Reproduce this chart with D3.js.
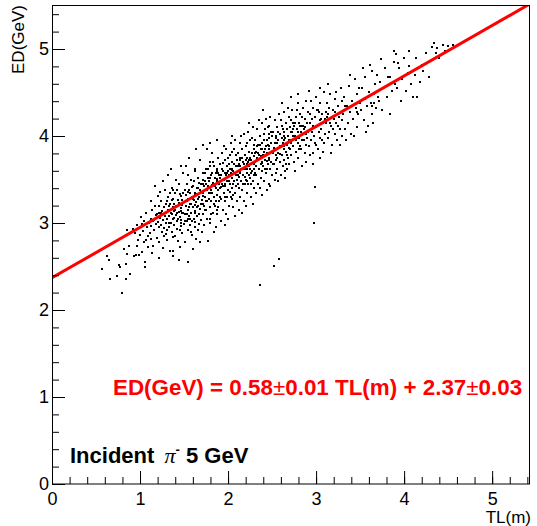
<!DOCTYPE html>
<html><head><meta charset="utf-8">
<script src="https://cdn.jsdelivr.net/npm/d3@7"></script>
<style>
body{margin:0;background:#fff;}
svg{display:block;font-family:"Liberation Sans",Arial,sans-serif;}
</style></head>
<body>
<svg id="c" width="537" height="526"></svg>
<script>
// axis tick values
const xMajorTicks = [0,1,2,3,4,5];
const yMajorTicks = [0,1,2,3,4,5];
const xDomain = [0, 5.43];
const yDomain = [0, 5.5];
// linear fit parameters
const fitSlope = 0.58;
const fitIntercept = 2.37;
// events: [TL(m), ED(GeV)]
const events = [
[0.57,2.47],[0.66,2.36],[0.65,2.57],[0.62,2.62],
[0.74,2.39],[0.76,2.52],[0.77,2.49],[0.80,2.20],[0.84,2.36],[0.84,2.53],[0.85,2.64],[0.85,2.92],[0.89,2.41],[0.88,2.74],[0.82,2.70],
[0.93,2.62],[0.95,2.63],[0.97,2.74],[0.99,2.63],[1.02,2.67],[1.06,2.50],[1.06,2.55],[1.07,2.80],[0.92,2.93],[0.96,2.98],[1.00,2.86],[1.03,2.91],[1.05,3.02],[1.08,2.95],[1.09,2.72],[0.98,2.81],[1.01,3.07],[1.04,2.78],[1.10,3.00],[0.94,2.88],[1.07,3.12],[1.09,2.85],[1.02,2.99],
[1.11,2.88],[1.12,3.05],[1.13,2.96],[1.14,3.15],[1.15,2.74],[1.15,3.02],[1.16,2.92],[1.17,3.20],[1.18,2.99],[1.18,3.09],[1.19,2.83],[1.20,3.31],[1.20,3.01],[1.21,2.95],[1.22,3.12],[1.22,2.78],[1.23,3.06],[1.24,2.98],[1.24,3.25],[1.25,2.90],[1.25,3.14],[1.26,3.03],[1.26,2.71],[1.27,3.18],[1.27,2.94],[1.28,3.08],[1.28,3.38],[1.29,2.87],[1.29,3.00],[1.30,3.22],[1.12,3.25],[1.14,2.65],[1.17,3.42],[1.21,2.60],[1.23,3.36],[1.26,3.48],[1.19,3.10],[1.16,3.04],[1.29,3.12],[1.13,2.82],
[1.31,3.05],[1.31,2.80],[1.32,3.15],[1.32,3.30],[1.33,2.95],[1.33,3.08],[1.34,3.22],[1.34,2.68],[1.35,3.12],[1.35,3.00],[1.36,3.40],[1.36,2.90],[1.37,3.18],[1.37,2.68],[1.38,3.05],[1.38,3.28],[1.39,2.98],[1.39,3.14],[1.40,3.35],[1.40,2.85],[1.41,3.09],[1.41,3.20],[1.42,2.93],[1.42,3.02],[1.43,3.26],[1.43,2.79],[1.44,3.13],[1.44,3.45],[1.45,2.72],[1.45,3.07],[1.46,3.17],[1.46,2.96],[1.47,3.31],[1.47,3.04],[1.48,2.88],[1.48,3.21],[1.49,3.11],[1.49,3.58],[1.50,2.99],[1.50,3.24],[1.32,3.55],[1.35,3.62],[1.38,2.62],[1.41,3.50],[1.44,2.58],[1.47,3.66],[1.33,3.00],[1.36,3.10],[1.40,3.15],[1.43,3.05],[1.46,3.00],[1.49,3.35],[1.42,3.38],[1.37,2.84],[1.45,2.92],[1.34,3.35],[1.48,3.12],[1.39,3.22],[1.31,3.25],[1.44,3.23],
[1.51,3.10],[1.51,2.78],[1.52,3.32],[1.52,3.20],[1.53,3.02],[1.53,3.45],[1.54,3.15],[1.54,2.92],[1.55,3.28],[1.55,2.55],[1.56,3.38],[1.56,3.08],[1.57,3.22],[1.57,2.98],[1.58,3.50],[1.58,3.12],[1.59,3.30],[1.59,2.86],[1.60,3.18],[1.60,3.42],[1.61,3.05],[1.61,3.26],[1.62,2.95],[1.62,3.35],[1.63,3.14],[1.63,3.60],[1.64,3.24],[1.64,2.82],[1.65,3.40],[1.65,3.08],[1.66,3.20],[1.66,3.52],[1.67,2.99],[1.67,3.30],[1.68,3.16],[1.68,3.72],[1.69,3.36],[1.69,3.04],[1.70,3.26],[1.70,2.90],[1.52,3.65],[1.56,3.75],[1.60,2.70],[1.64,3.85],[1.68,2.78],[1.53,3.25],[1.57,3.35],[1.61,3.48],[1.65,3.18],[1.69,3.45],[1.54,3.05],[1.58,3.22],[1.62,3.12],[1.66,3.28],[1.55,3.55],[1.59,3.02],[1.63,3.32],[1.67,3.10],[1.58,2.90],[1.62,3.62],[1.66,2.92],[1.51,3.38],[1.60,3.28],[1.68,3.38],[1.55,3.15],
[1.71,3.35],[1.71,3.10],[1.72,3.50],[1.72,3.22],[1.73,3.42],[1.73,2.98],[1.74,3.58],[1.74,3.30],[1.75,3.15],[1.75,3.45],[1.76,3.38],[1.76,3.05],[1.77,2.79],[1.77,3.62],[1.78,3.28],[1.78,3.48],[1.79,3.18],[1.79,3.70],[1.80,3.40],[1.80,3.00],[1.81,3.55],[1.81,3.25],[1.82,3.35],[1.82,3.80],[1.83,3.12],[1.83,3.46],[1.84,3.30],[1.84,3.65],[1.85,3.20],[1.85,3.52],[1.86,3.40],[1.86,2.95],[1.87,3.60],[1.87,3.32],[1.88,3.48],[1.88,3.10],[1.89,3.75],[1.89,3.38],[1.90,3.25],[1.90,3.55],[1.72,3.90],[1.76,3.85],[1.80,3.92],[1.84,2.90],[1.88,3.95],[1.73,3.20],[1.77,3.42],[1.81,3.10],[1.85,3.42],[1.89,3.18],[1.74,3.48],[1.78,3.35],[1.82,3.58],[1.86,3.25],[1.90,3.45],[1.75,3.62],[1.79,3.52],[1.83,3.70],[1.87,3.15],[1.71,3.45],[1.76,3.25],[1.80,3.65],[1.84,3.45],[1.88,3.62],[1.79,3.05],
[1.91,3.40],[1.91,3.68],[1.92,3.28],[1.92,3.55],[1.93,3.45],[1.93,3.80],[1.94,3.15],[1.94,3.60],[1.95,3.50],[1.95,3.35],[1.96,3.72],[1.96,3.25],[1.97,3.58],[1.97,3.42],[1.98,3.85],[1.98,3.10],[1.99,3.65],[1.99,3.48],[2.00,3.38],[2.00,3.75],[2.01,3.55],[2.01,3.20],[2.02,3.62],[2.02,3.45],[2.03,3.92],[2.03,3.30],[2.04,3.70],[2.04,3.52],[2.05,3.40],[2.05,3.82],[2.06,3.60],[2.06,3.18],[2.07,3.48],[2.07,3.68],[2.08,3.35],[2.08,3.95],[2.09,3.55],[2.09,3.42],[2.10,3.72],[2.10,3.25],[1.92,3.02],[1.96,2.98],[2.00,3.05],[2.04,4.00],[2.08,3.08],[1.93,3.62],[1.97,3.30],[2.01,3.48],[2.05,3.62],[2.09,3.65],[1.94,3.42],[1.98,3.55],[2.02,3.78],[2.06,3.45],[2.10,3.50],[1.95,3.88],[1.99,3.30],[2.03,3.58],[2.07,3.85],[1.91,3.52],[2.00,3.60],[2.06,3.32],
[2.11,3.55],[2.11,3.80],[2.12,3.40],[2.12,3.68],[2.13,3.60],[2.13,3.92],[2.14,3.30],[2.14,3.75],[2.15,3.62],[2.15,3.48],[2.16,3.85],[2.16,3.38],[2.17,3.70],[2.17,3.55],[2.18,4.02],[2.18,3.25],[2.19,3.78],[2.19,3.62],[2.20,3.50],[2.20,3.88],[2.21,3.68],[2.21,3.35],[2.22,3.75],[2.22,3.58],[2.23,4.05],[2.23,3.45],[2.24,3.82],[2.24,3.65],[2.25,3.52],[2.25,3.95],[2.26,3.72],[2.26,3.30],[2.27,3.60],[2.27,3.80],[2.28,3.48],[2.28,4.10],[2.29,3.68],[2.29,3.55],[2.30,3.85],[2.30,3.40],[2.12,3.15],[2.16,3.12],[2.20,3.20],[2.24,4.15],[2.28,3.22],[2.13,3.72],[2.17,3.45],[2.21,3.62],[2.25,3.75],[2.29,3.90],[2.14,3.58],[2.18,3.68],[2.22,3.92],[2.26,3.58],[2.30,3.62],[2.15,4.00],[2.19,3.45],[2.23,3.70],[2.27,3.98],[2.11,3.65],[2.20,3.72],[2.26,3.45],[2.24,3.55],
[2.31,3.70],[2.31,3.95],[2.32,3.55],[2.32,3.82],[2.33,3.75],[2.33,4.08],[2.34,3.45],[2.34,3.90],[2.35,3.78],[2.35,3.62],[2.36,2.29],[2.36,4.00],[2.37,3.52],[2.37,3.85],[2.38,3.70],[2.38,4.15],[2.39,3.32],[2.39,3.92],[2.40,3.78],[2.40,3.65],[2.41,4.02],[2.41,3.48],[2.42,3.85],[2.42,3.72],[2.43,4.20],[2.43,3.58],[2.44,3.95],[2.44,3.80],[2.45,3.68],[2.45,4.10],[2.46,3.88],[2.46,3.45],[2.47,3.75],[2.47,3.98],[2.48,3.62],[2.48,4.22],[2.49,3.82],[2.49,3.70],[2.50,4.00],[2.50,3.55],[2.32,3.35],[2.36,3.40],[2.40,4.30],[2.44,3.38],[2.48,3.42],[2.33,3.88],[2.37,3.68],[2.41,3.82],[2.45,3.90],[2.49,4.05],[2.34,3.72],[2.38,3.85],[2.42,4.08],[2.46,3.72],[2.35,4.18],[2.39,3.60],[2.43,3.88],[2.47,4.12],[2.31,3.80],[2.44,3.62],
[2.51,3.80],[2.51,4.05],[2.52,2.51],[2.52,3.68],[2.53,3.92],[2.53,4.18],[2.54,3.58],[2.54,3.98],[2.55,3.85],[2.55,3.72],[2.56,4.10],[2.56,3.62],[2.57,3.95],[2.57,3.80],[2.58,2.59],[2.58,4.25],[2.59,3.70],[2.59,4.02],[2.60,3.88],[2.60,3.55],[2.61,4.12],[2.61,3.78],[2.62,3.92],[2.62,3.65],[2.63,4.28],[2.63,3.85],[2.64,4.05],[2.64,3.72],[2.65,3.98],[2.65,3.60],[2.66,4.15],[2.66,3.82],[2.67,3.90],[2.67,4.08],[2.68,3.75],[2.68,4.32],[2.69,3.95],[2.69,3.68],[2.70,4.10],[2.70,3.85],[2.53,3.50],[2.57,3.48],[2.61,4.38],[2.65,3.52],[2.69,4.22],[2.55,4.00],[2.59,3.88],[2.63,4.00],[2.67,3.62],[2.56,3.92],[2.60,4.18],[2.64,3.88],[2.68,4.00],
[2.71,3.95],[2.71,4.18],[2.72,3.78],[2.73,4.05],[2.73,4.30],[2.74,3.88],[2.75,4.12],[2.75,3.70],[2.76,4.00],[2.77,4.22],[2.77,3.82],[2.78,4.08],[2.79,3.92],[2.79,4.38],[2.80,3.75],[2.81,4.15],[2.81,3.98],[2.82,4.25],[2.83,3.85],[2.83,4.05],[2.84,3.65],[2.85,4.12],[2.85,4.32],[2.86,3.95],[2.87,4.20],[2.87,3.80],[2.88,4.02],[2.89,4.40],[2.89,3.90],[2.90,4.15],[2.72,4.45],[2.76,3.60],[2.80,4.48],[2.84,4.12],[2.88,3.70],[2.74,4.00],[2.78,4.30],[2.82,3.88],[2.86,4.08],[2.90,3.98],[2.78,3.98],[2.84,4.22],[2.74,4.15],
[2.91,4.05],[2.91,4.28],[2.92,3.88],[2.93,4.15],[2.94,4.40],[2.94,3.95],[2.95,4.20],[2.96,3.80],[2.97,4.10],[2.97,4.32],[2.98,3.00],[2.98,4.00],[2.99,4.22],[3.00,3.90],[3.00,4.45],[3.01,4.12],[3.02,3.85],[3.02,4.30],[3.03,4.05],[3.04,4.18],[3.05,3.75],[3.05,4.38],[3.06,4.08],[3.07,3.95],[3.07,4.25],[3.08,4.15],[3.09,4.50],[3.09,3.92],[3.10,4.20],[3.10,4.02],[2.92,4.52],[2.96,3.68],[3.00,4.10],[3.04,4.55],[3.08,3.82],[2.95,4.05],[2.99,3.92],[3.03,4.28],[3.06,4.20],[2.93,3.78],[2.99,3.41],
[3.11,4.15],[3.12,4.38],[3.13,3.98],[3.14,4.25],[3.15,4.05],[3.16,4.48],[3.17,4.12],[3.18,3.90],[3.19,4.30],[3.20,4.20],[3.21,4.02],[3.22,4.42],[3.23,4.15],[3.24,3.95],[3.25,4.35],[3.26,4.22],[3.27,4.08],[3.28,4.55],[3.29,4.18],[3.30,4.00],[3.13,4.60],[3.17,3.80],[3.21,4.28],[3.25,4.12],[3.29,4.40],[3.15,4.32],[3.19,4.08],[3.23,4.50],[3.27,3.90],[3.12,4.22],
[3.31,4.25],[3.32,4.45],[3.33,4.08],[3.35,4.35],[3.36,4.15],[3.37,4.58],[3.38,4.28],[3.40,4.02],[3.41,4.40],[3.42,4.20],[3.44,4.65],[3.45,4.32],[3.46,4.10],[3.47,4.48],[3.48,4.25],[3.50,4.38],[3.34,3.95],[3.39,4.70],[3.43,4.00],[3.49,4.55],[3.33,4.35],[3.46,4.28],
[3.51,4.30],[3.52,4.55],[3.54,4.18],[3.55,4.42],[3.56,4.68],[3.58,4.35],[3.59,4.12],[3.60,4.50],[3.62,4.38],[3.63,4.75],[3.64,4.25],[3.66,4.48],[3.67,4.60],[3.68,4.32],[3.70,4.45],[3.53,4.78],[3.57,4.05],[3.61,4.82],[3.65,4.15],[3.69,4.70],[3.64,4.34],[3.66,4.38],
[3.71,4.40],[3.73,4.62],[3.75,4.30],[3.76,4.55],[3.78,4.78],[3.80,4.45],[3.82,4.68],[3.84,4.25],[3.86,4.52],[3.88,4.85],[3.90,4.60],[3.74,4.88],[3.84,4.68],
[3.92,4.55],[3.94,4.78],[3.96,4.40],[3.98,4.65],[4.00,4.90],[4.02,4.52],[4.04,4.72],[4.06,4.98],[4.08,4.60],[4.10,4.45],[3.89,4.98],[3.91,4.94],[3.93,4.84],[4.05,4.80],
[4.12,4.70],[4.14,4.90],[4.15,4.45],[4.18,4.62],[4.20,4.82],[4.22,4.75],[4.25,4.95],[4.28,4.68],
[4.32,5.02],[4.34,5.07],[4.36,4.95],[4.37,5.01],[4.40,4.90],[4.44,5.05],[4.46,4.98],[4.50,5.03],[4.55,5.05],
[1.24,3.11],[1.27,2.85],[1.33,3.19],[1.36,3.26],[1.39,3.06],[1.42,3.12],[1.45,3.33],[1.48,3.27],[1.51,3.02],[1.54,3.36],[1.56,3.18],[1.59,3.41],[1.62,3.21],[1.64,3.33],[1.67,3.46],[1.69,3.22],[1.72,3.31],[1.74,3.15],[1.77,3.52],[1.79,3.34],[1.82,3.44],[1.84,3.22],[1.87,3.51],[1.89,3.57],[1.92,3.41],[1.94,3.69],[1.97,3.51],[1.99,3.58],[2.02,3.36],[2.04,3.61],[2.07,3.57],[2.09,3.78],[2.12,3.53],[2.14,3.66],[2.17,3.62],[2.19,3.53],[2.22,3.66],[2.24,3.72],[2.27,3.69],[2.29,3.77],[2.32,3.65],[2.34,3.81],[2.37,3.77],[2.39,3.69],[2.42,3.62],[2.44,3.71],[2.47,3.85],[2.49,3.92],[2.52,3.86],[2.54,3.78],[2.57,4.05],[2.59,3.79],[2.62,4.08],[2.64,3.95],[2.67,3.78],[2.69,3.86],[2.72,3.92],[2.74,4.08],[2.77,3.95],[2.79,4.05],[2.82,4.12],[2.84,3.95],[2.87,4.10],[2.89,4.05],[2.93,4.25],[2.96,4.12],[3.01,4.30],[3.04,3.98],[3.11,4.28],[3.16,4.15],
[1.21,3.19],[1.31,2.92],[1.38,3.38],[1.47,3.14],[1.53,3.10],[1.57,3.05],[1.63,3.01],[1.66,3.40],[1.71,3.58],[1.75,3.25],[1.81,3.38],[1.86,3.58],[1.91,3.30],[1.96,3.45],[2.01,3.68],[2.05,3.28],[2.11,3.45],[2.16,3.75],[2.21,3.48],[2.25,3.62],[2.31,3.58],[2.36,3.90],[2.41,3.95],[2.46,4.02],[2.51,3.68],[2.56,3.75],[2.61,3.98],[2.66,3.68],[2.71,4.05],[2.76,4.15],[2.81,3.85]
];

const svg = d3.select("#c");
const fLeft = 52, fRight = 530, fTop = 5.5, fBottom = 484;
const x = d3.scaleLinear().domain(xDomain).range([fLeft, fRight]);
const y = d3.scaleLinear().domain(yDomain).range([fBottom, fTop]);

const minorX = d3.range(0, xDomain[1] + 1e-9, 0.2).map(v => +v.toFixed(2));
const minorY = d3.range(0, yDomain[1] + 1e-9, 0.2).map(v => +v.toFixed(2));

svg.append("defs").append("clipPath").attr("id","clip")
  .append("rect").attr("x", fLeft).attr("y", fTop).attr("width", fRight-fLeft).attr("height", fBottom-fTop);

// points
svg.append("g").attr("clip-path","url(#clip)")
  .selectAll("rect").data(events).join("rect")
  .attr("x", d => Math.round(x(d[0])) - 1)
  .attr("y", d => Math.round(y(d[1])) - 1)
  .attr("width", 2).attr("height", 2)
  .attr("fill", "#000");

// fit line
const fitData = [xDomain[0], xDomain[1]].map(t => [t, fitSlope * t + fitIntercept]);
svg.append("path").attr("clip-path","url(#clip)")
  .datum(fitData)
  .attr("d", d3.line().x(d => x(d[0])).y(d => y(d[1])))
  .attr("stroke", "#ff0000").attr("stroke-width", 3).attr("fill", "none");

// axes
function styleAxis(g){
  g.selectAll("line").attr("stroke","#000").attr("stroke-width",1);
  g.selectAll("text").attr("fill","#000").style("font-size","18px").style("font-family","'Liberation Sans',Arial,sans-serif");
}
const gx = svg.append("g").attr("transform",`translate(0,${fBottom})`);
gx.call(d3.axisBottom(x).tickValues(minorX).tickSize(-7).tickFormat(""));
gx.select(".domain").remove();
const gx2 = svg.append("g").attr("transform",`translate(0,${fBottom})`);
gx2.call(d3.axisBottom(x).tickValues(xMajorTicks).tickSize(-13).tickPadding(20).tickFormat(d3.format("d")));
gx2.select(".domain").remove();
gx2.selectAll("text").attr("y", 8).attr("dy", "0.71em");
styleAxis(gx); styleAxis(gx2);

const gy = svg.append("g").attr("transform",`translate(${fLeft},0)`);
gy.call(d3.axisLeft(y).tickValues(minorY).tickSize(-7).tickFormat(""));
gy.select(".domain").remove();
const gy2 = svg.append("g").attr("transform",`translate(${fLeft},0)`);
gy2.call(d3.axisLeft(y).tickValues(yMajorTicks).tickSize(-13).tickPadding(3).tickFormat(d3.format("d")));
gy2.select(".domain").remove();
gy2.selectAll("text").attr("x", -3);
styleAxis(gy); styleAxis(gy2);

// frame
svg.append("rect").attr("x", fLeft + 0.5).attr("y", fTop).attr("width", fRight - fLeft - 1).attr("height", fBottom - fTop)
  .attr("fill","none").attr("stroke","#000").attr("stroke-width",1);

// axis titles
svg.append("text").attr("x", 531).attr("y", 523).attr("text-anchor","end")
  .style("font-size","17px").text("TL(m)");
svg.append("text").attr("transform","translate(24,5) rotate(-90)").attr("text-anchor","end")
  .style("font-size","17px").text("ED(GeV)");

// fit equation
const eq = svg.append("text").attr("x", 113).attr("y", 395).attr("fill","#ff0000")
  .style("font-size","22.4px").style("font-weight","bold");
eq.append("tspan").text("ED(GeV) = 0.58");
eq.append("tspan").style("font-weight","normal").text("±");
eq.append("tspan").text("0.01 TL(m) + 2.37");
eq.append("tspan").style("font-weight","normal").text("±");
eq.append("tspan").text("0.03");

// label
const lab = svg.append("text").attr("x", 70).attr("y", 463)
  .style("font-size","22px").style("font-weight","bold").attr("fill","#000");
lab.append("tspan").text("Incident ");
lab.append("tspan").attr("dx", 4).style("font-family","'Liberation Serif',serif").style("font-weight","normal").style("font-style","italic").text("π");
lab.append("tspan").attr("dy", -9).style("font-size","13px").text("-");
lab.append("tspan").attr("dy", 9).text(" 5 GeV");
</script>
</body></html>
